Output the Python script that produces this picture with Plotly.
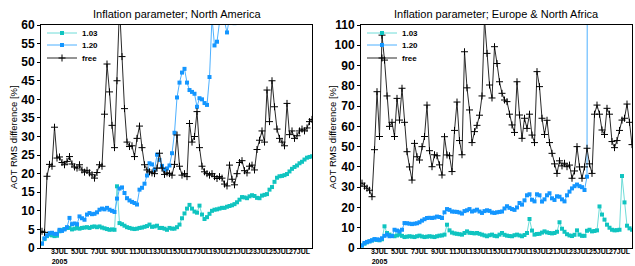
import pandas as pd
import plotly.graph_objects as go

# ---------------- data (6-hourly, starting 2005-07-01 06:00) ----------------
na_free = [4.5, 4.2, 19.3, 22.5, 22.0, 32.5, 24.2, 24.5, 23.0, 22.4, 23.3, 24.6,
           22.6, 21.8, 21.5, 22.4, 21.0, 20.4, 20.9, 20.2, 19.7, 18.8, 20.3, 22.4,
           22.0, 36.0, 49.5, 42.0, 33.0, 27.0, 45.0, 65.0, 51.5, 37.5, 28.5, 27.3,
           27.5, 24.6, 29.5, 32.8, 27.0, 22.4, 21.0, 20.5, 20.2, 20.0, 21.5, 25.5,
           21.5, 19.8, 20.2, 20.0, 19.6, 22.5, 30.4, 22.0, 19.6, 20.0, 19.2, 33.5,
           28.5, 30.0, 36.7, 27.0, 22.0, 20.5, 20.0, 19.6, 20.0, 19.2, 18.7, 19.2,
           18.8, 17.2, 16.7, 22.3, 18.5, 17.0, 20.0, 23.0, 23.5, 20.8, 20.2, 22.0,
           22.3, 21.0, 26.5, 29.0, 31.5, 28.5, 42.5, 34.0, 45.0, 38.0, 32.0, 29.5,
           28.5, 27.5, 38.9, 30.5, 31.5, 29.5, 30.2, 31.5, 32.0, 31.5, 32.3, 34.0,
           34.6]
na_103 = [1.2, 2.4, 3.2, 3.6, 3.4, 3.2, 3.3, 4.5, 4.8, 5.1, 5.4, 5.4,
          5.0, 5.2, 5.4, 5.2, 5.4, 5.5, 5.6, 5.4, 5.7, 5.8, 5.6, 5.8,
          5.5, 5.3, 5.1, 4.9, 5.0, 4.9, 16.6, 6.7, 6.4, 6.0, 5.6, 5.4,
          5.2, 5.1, 5.2, 5.4, 5.5, 5.7, 5.9, 6.3, 5.7, 5.8, 6.0, 5.4,
          5.4, 5.2, 4.9, 5.4, 5.2, 5.2, 5.6, 6.3, 8.0, 9.3, 10.6, 11.6,
          10.6, 9.8, 9.5, 11.4, 9.0, 7.8, 8.3, 9.2, 10.0, 10.3, 10.4, 10.6,
          10.8, 10.8, 11.1, 11.3, 11.5, 11.8, 12.3, 13.0, 13.7, 13.6, 13.4, 13.9,
          14.2, 14.0, 13.5, 13.4, 14.1, 14.3, 14.5, 15.7, 16.4, 17.8, 18.9, 19.3,
          19.4, 19.6, 19.9, 20.6, 21.3, 21.8, 22.2, 22.8, 23.2, 23.8, 24.3, 24.5,
          24.7]
na_120 = [1.2, 2.6, 3.4, 4.0, 4.1, 3.8, 3.8, 4.9, 4.6, 5.0, 5.6, 8.1,
          6.4, 6.6, 6.4, 8.5, 8.0, 7.6, 9.0, 9.4, 9.1, 9.2, 9.6, 10.3,
          10.6, 10.4, 10.8, 10.3, 10.0, 9.7, 13.3, 16.0, 16.3, 14.8, 13.4, 12.8,
          12.4, 12.1, 11.7, 15.7, 16.2, 17.3, 19.5, 22.8, 22.5, 21.0, 25.1, 23.7,
          22.1, 21.0, 21.4, 22.2, 25.5, 31.0, 40.5, 44.5, 47.2, 48.2, 44.5, 42.5,
          42.0, 41.5, 38.0, 40.3, 40.0, 39.0, 38.5, 46.0, 62.0, 54.5, 55.5, 63.0,
          66.0, 61.0, 58.0, 62.0, 61.0, 60.5, 61.0, 64.0, 68.0, 72.0]

eu_free = [32.0, 30.5, 29.5, 28.5, 25.3, 48.5, 77.1, 55.0, 105.0, 92.7, 75.0, 60.0,
           62.0, 55.0, 73.8, 63.1, 78.8, 62.0, 47.5, 40.0, 33.5, 51.6, 45.0, 43.4,
           50.0, 55.0, 70.5, 48.0, 40.1, 46.0, 45.5, 41.0, 36.0, 54.9, 45.9, 45.5,
           37.7, 58.0, 72.0, 53.0, 46.0, 96.8, 79.0, 68.1, 52.0, 57.4, 60.5, 65.5,
           75.0, 113.0, 96.0, 80.4, 74.0, 99.3, 91.0, 82.0, 76.3, 73.0, 72.2, 66.0,
           60.7, 57.0, 82.0, 65.6, 54.1, 64.0, 59.0, 66.0, 55.7, 52.0, 87.0, 79.6,
           64.0, 56.0, 63.0, 52.0, 46.7, 41.5, 36.8, 43.0, 40.5, 41.8, 40.1, 40.9,
           34.4, 38.0, 50.0, 40.0, 34.4, 40.0, 49.2, 41.5, 36.8, 66.0, 70.5, 66.0,
           58.2, 56.0, 68.9, 66.0, 52.5, 49.5, 53.0, 58.0, 63.1, 64.0, 71.0, 62.0,
           51.0]
eu_103 = [1.2, 2.1, 2.8, 3.3, 3.7, 4.1, 4.0, 3.8, 4.3, 10.7, 7.4, 6.6,
          6.0, 5.8, 6.2, 6.6, 6.0, 5.4, 5.6, 5.8, 5.6, 5.4, 5.8, 6.1,
          5.7, 5.4, 5.6, 5.8, 5.6, 5.4, 5.8, 6.1, 6.2, 6.6, 11.5, 8.7,
          7.6, 7.2, 7.0, 6.8, 6.6, 7.4, 8.2, 7.5, 7.4, 7.2, 7.4, 7.0,
          6.6, 6.2, 5.8, 6.3, 6.6, 6.0, 5.8, 6.6, 7.4, 6.5, 6.1, 5.9,
          5.8, 6.3, 6.6, 6.2, 5.8, 6.4, 7.4, 14.3, 8.6, 6.6, 6.9, 7.0,
          7.6, 8.2, 7.7, 7.4, 7.2, 7.4, 8.0, 12.7, 9.5, 8.0, 6.8, 6.2,
          5.9, 6.5, 8.7, 6.6, 6.0, 6.0, 8.5, 9.0, 8.2, 8.4, 8.7, 20.5,
          16.5, 14.0, 11.5, 10.0, 9.0, 8.7, 8.8, 9.0, 35.5, 22.5, 11.0, 9.7,
          9.0]
eu_120 = [1.3, 2.5, 3.0, 3.3, 3.8, 4.4, 4.2, 4.1, 4.8, 6.0, 6.6, 5.8,
          5.9, 9.0, 8.6, 8.2, 9.0, 12.3, 12.2, 12.0, 11.8, 12.0, 12.2, 12.7,
          13.5, 14.2, 14.8, 14.9, 14.8, 15.0, 15.5, 15.3, 14.8, 17.6, 19.2, 18.8,
          18.0, 17.9, 17.8, 17.5, 17.0, 18.2, 18.6, 19.2, 18.0, 18.4, 18.9, 18.0,
          17.3, 18.2, 18.6, 18.3, 17.5, 17.3, 17.6, 17.8, 18.0, 19.5, 20.6, 19.8,
          19.2, 18.8, 20.0, 22.2, 21.4, 23.5, 26.0, 26.5, 23.8, 23.0, 26.5, 26.0,
          22.9, 24.0, 26.0, 27.0, 24.5, 23.7, 25.5, 25.3, 24.0, 23.0, 26.0, 27.8,
          29.4, 30.5, 31.3, 30.5, 30.0, 28.6, 35.2, 900.0]

series_names = ["1.03", "1.20", "free"]
tick_dates = ["2005-07-%02d" % d for d in range(3, 28, 2)]
tick_text = ["3JUL<br>2005"] + ["%dJUL" % d for d in range(5, 28, 2)]
panel_titles = ["Inflation parameter; North America",
                "Inflation parameter; Europe & North Africa"]
y_title = "AOT RMS difference [%]"


def times(values):
    return pd.date_range("2005-07-01 06:00", periods=len(values), freq="6h")


styles = {
    "1.03": dict(line=dict(color="#6fdcd8", width=1),
                 marker=dict(symbol="square", size=4, color="#10c4c0")),
    "1.20": dict(line=dict(color="#4db0ff", width=1),
                 marker=dict(symbol="square", size=4, color="#1496ff")),
    "free": dict(line=dict(color="#2a2a2a", width=1),
                 marker=dict(symbol="cross-thin", size=5, color="black",
                             line=dict(color="black", width=1))),
}

W, H = 635, 266
ml, mr, mt, mb = 41, 3, 25, 18
pw, ph = W - ml - mr, H - mt - mb
left_dom = [0, (312 - ml) / pw]
right_dom = [(361 - ml) / pw, 1]

fig = go.Figure()
panels = [(na_103, na_120, na_free, "x", "y", ["legend", "legend2", "legend3"]),
          (eu_103, eu_120, eu_free, "x2", "y2", ["legend4", "legend5", "legend6"])]
for vals103, vals120, valsfree, xa, ya, lgs in panels:
    for name, vals, lg in zip(series_names, [vals103, vals120, valsfree], lgs):
        fig.add_trace(go.Scatter(x=times(vals), y=vals, mode="lines+markers",
                                 name=name, xaxis=xa, yaxis=ya, legend=lg,
                                 **styles[name]))

xcommon = dict(type="date", range=["2005-07-01 03:36", "2005-07-28 06:00"],
               tickvals=tick_dates, ticktext=tick_text, ticks="",
               ticklabelstandoff=-3,
               tickfont=dict(family="Liberation Sans Narrow, Liberation Sans",
                             size=7, color="black", weight="bold"),
               showgrid=False, zeroline=False, showline=True, linecolor="black",
               linewidth=1, mirror=True, tickangle=0, automargin=False)
ycommon = dict(showgrid=False, zeroline=False, showline=True, linecolor="black",
               linewidth=1, mirror=True, ticks="outside", ticklen=3,
               tickcolor="black", automargin=False,
               tickfont=dict(family="Liberation Sans", size=12, color="black",
                             weight="bold"))

legcommon = dict(bgcolor="rgba(0,0,0,0)", borderwidth=0, itemwidth=30,
                 font=dict(family="Liberation Sans", size=8, color="black",
                           weight="bold"),
                 xanchor="left", yanchor="middle")
row_px = [33, 45, 58]
legend_layout = {}
for i, lg in enumerate(["legend", "legend2", "legend3"]):
    legend_layout[lg] = dict(x=1 / pw, y=(ph + mt - row_px[i]) / ph, **legcommon)
for i, lg in enumerate(["legend4", "legend5", "legend6"]):
    legend_layout[lg] = dict(x=(362 - ml) / pw, y=(ph + mt - row_px[i]) / ph, **legcommon)

fig.update_layout(
    width=W, height=H,
    margin=dict(l=ml, r=mr, t=mt, b=mb, autoexpand=False),
    paper_bgcolor="white", plot_bgcolor="white",
    xaxis=dict(domain=left_dom, anchor="y", **xcommon),
    yaxis=dict(domain=[0, 1], anchor="x", range=[0, 60], dtick=5, **ycommon),
    xaxis2=dict(domain=right_dom, anchor="y2", **xcommon),
    yaxis2=dict(domain=[0, 1], anchor="x2", range=[0, 110], dtick=10, **ycommon),
    showlegend=True,
    **legend_layout,
)

title_font = dict(family="Liberation Sans", size=11, color="black")
for dom, txt in zip([left_dom, right_dom], panel_titles):
    fig.add_annotation(text=txt, xref="paper", yref="paper",
                       x=(dom[0] + dom[1]) / 2, y=1 + (mt - 14) / ph,
                       showarrow=False, font=title_font,
                       xanchor="center", yanchor="middle")
for xp in [(13 - ml) / pw, (332 - ml) / pw]:
    fig.add_annotation(text=y_title, xref="paper", yref="paper",
                       x=xp, y=(248 - 137) / ph, textangle=-90, showarrow=False,
                       font=dict(family="Liberation Sans", size=9.5, color="black"),
                       xanchor="center", yanchor="middle")

fig.write_html("out.html",
               config={"displayModeBar": False},
               post_script="document.body.style.margin='0';"
                           "document.body.style.overflow='hidden';")
